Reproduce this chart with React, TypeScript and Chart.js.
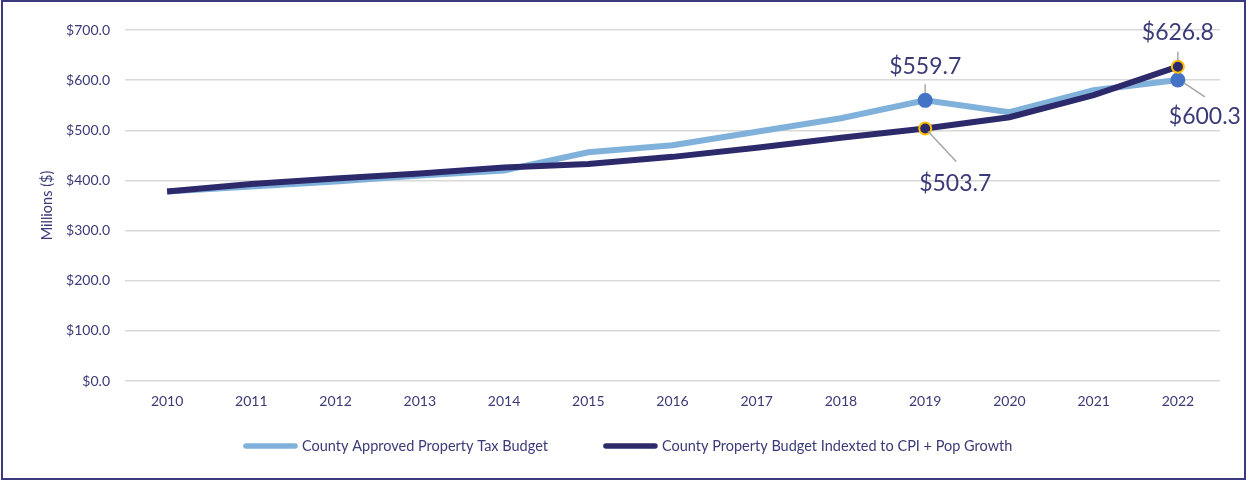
import React, { useEffect, useRef } from 'react';
import { Chart, registerables } from 'chart.js';

Chart.register(...registerables);

const years = ['2010', '2011', '2012', '2013', '2014', '2015', '2016', '2017', '2018', '2019', '2020', '2021', '2022'];
const approvedBudget = [378, 388, 398, 410, 420, 456, 470, 497, 524, 559.7, 536, 580, 600.3];
const indexedBudget = [378, 393, 404, 414, 426, 433, 447, 465, 485, 503.7, 526, 570, 626.8];
const seriesLabels = ['County Approved Property Tax Budget', 'County Property Budget Indexted to CPI + Pop Growth'];
const highlightYears = ['2019', '2022'];
const yAxisTitle = 'Millions ($)';

const NAVY_TEXT = '#3a3a78';
const LIGHT = '#80b1da';
const DARK = '#2c2a6b';
const POINT_BLUE = '#4472c4';
const GOLD = '#ffc000';
const FONT = 'Lato, "Noto Sans", sans-serif';

const callouts = [
  { datasetIndex: 0, year: '2019', dx: 0, dy: -34, leader: [0, -16, 0, -7] },
  { datasetIndex: 1, year: '2019', dx: 30, dy: 55, leader: [3, 3, 31, 33] },
  { datasetIndex: 1, year: '2022', dx: 0, dy: -34, leader: [0, -15, 0, -6] },
  { datasetIndex: 0, year: '2022', dx: 27, dy: 37, leader: [6, 3, 27, 17] },
];

const calloutPlugin = {
  id: 'callouts',
  afterDatasetsDraw(chart: any) {
    const ctx = chart.ctx;
    ctx.save();
    callouts.forEach((c) => {
      const idx = years.indexOf(c.year);
      const meta = chart.getDatasetMeta(c.datasetIndex);
      const el = meta.data[idx];
      if (!el) return;
      const v = chart.data.datasets[c.datasetIndex].data[idx] as number;
      ctx.strokeStyle = '#a6a6a6';
      ctx.lineWidth = 1.5;
      ctx.beginPath();
      ctx.moveTo(el.x + c.leader[0], el.y + c.leader[1]);
      ctx.lineTo(el.x + c.leader[2], el.y + c.leader[3]);
      ctx.stroke();
      ctx.fillStyle = NAVY_TEXT;
      ctx.font = `23px ${FONT}`;
      ctx.textAlign = 'center';
      ctx.textBaseline = 'middle';
      ctx.fillText('$' + v.toFixed(1), el.x + c.dx, el.y + c.dy);
    });
    ctx.restore();
  },
};

const legendPlugin = {
  id: 'customLegend',
  afterDraw(chart: any) {
    const ctx = chart.ctx;
    ctx.save();
    ctx.font = `14.5px ${FONT}`;
    ctx.textBaseline = 'middle';
    ctx.textAlign = 'left';
    const y = 446;
    let x = 243;
    const colors = [LIGHT, DARK];
    const sampleW = 55;
    seriesLabels.forEach((label, i) => {
      ctx.strokeStyle = colors[i];
      ctx.lineWidth = 5.5;
      ctx.lineCap = 'round';
      ctx.beginPath();
      ctx.moveTo(x + 3, y);
      ctx.lineTo(x + sampleW - 3, y);
      ctx.stroke();
      ctx.fillStyle = NAVY_TEXT;
      ctx.fillText(label, x + sampleW + 4, y);
      x += sampleW + 4 + ctx.measureText(label).width + 55;
    });
    ctx.restore();
  },
};

const isHighlight = (i: number) => highlightYears.includes(years[i]);

export default function App() {
  const ref = useRef<HTMLCanvasElement>(null);
  useEffect(() => {
    if (!ref.current) return;
    const chart = new Chart(ref.current, {
      type: 'line',
      data: {
        labels: years,
        datasets: [
          {
            label: seriesLabels[0],
            data: approvedBudget,
            borderColor: LIGHT,
            borderWidth: 6,
            tension: 0,
            order: 2,
            pointRadius: (c: any) => (isHighlight(c.dataIndex) ? 7.5 : 0),
            pointBackgroundColor: POINT_BLUE,
            pointBorderColor: POINT_BLUE,
            pointBorderWidth: 0,
            pointHoverRadius: 0,
          },
          {
            label: seriesLabels[1],
            data: indexedBudget,
            borderColor: DARK,
            borderWidth: 6,
            tension: 0,
            order: 1,
            pointRadius: (c: any) => (isHighlight(c.dataIndex) ? 6 : 0),
            pointBackgroundColor: DARK,
            pointBorderColor: GOLD,
            pointBorderWidth: 2,
            pointHoverRadius: 0,
          },
        ],
      },
      options: {
        responsive: false,
        animation: false,
        layout: { padding: { left: 0, right: 27, top: 30, bottom: 60 } },
        plugins: { legend: { display: false }, tooltip: { enabled: false } },
        scales: {
          x: {
            offset: true,
            grid: { display: false, drawTicks: false },
            border: { display: false },
            ticks: { color: NAVY_TEXT, font: { family: FONT, size: 14 }, padding: 12, maxRotation: 0 },
            afterFit: (s: any) => { s.height = 40; },
          },
          y: {
            min: 0,
            max: 700,
            grid: { color: '#d9d9d9', lineWidth: 1.5, drawTicks: false },
            border: { display: false },
            ticks: {
              stepSize: 100,
              color: NAVY_TEXT,
              font: { family: FONT, size: 14 },
              padding: 15,
              callback: (v: any) => '$' + Number(v).toFixed(1),
            },
            title: {
              display: true,
              text: yAxisTitle,
              color: NAVY_TEXT,
              font: { family: FONT, size: 14.5 },
              padding: { top: 39, bottom: 0 },
            },
            afterFit: (s: any) => { s.width = 125; },
          },
        },
      },
      plugins: [calloutPlugin, legendPlugin],
    });
    return () => chart.destroy();
  }, []);
  return (
    <div style={{ position: 'fixed', left: 0, top: 0, width: 1247, height: 481, background: '#fff' }}>
      <canvas ref={ref} width={1247} height={481} style={{ display: 'block' }} />
      <div
        style={{
          position: 'absolute',
          left: 1,
          top: 0,
          width: 1245,
          height: 480,
          border: '2px solid #3b3a7e',
          boxSizing: 'border-box',
          pointerEvents: 'none',
        }}
      />
    </div>
  );
}
